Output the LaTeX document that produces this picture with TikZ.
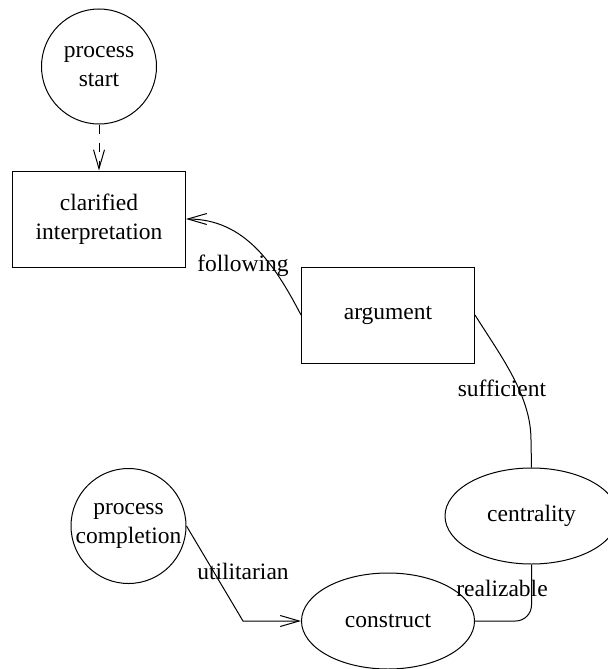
\documentclass[tikz,border=0pt]{standalone}
\usepackage{fontspec}
\setmainfont{Liberation Serif}
\usetikzlibrary{arrows.meta,shapes.geometric}

\begin{document}
\begin{tikzpicture}[x=0.5pt,y=-0.5pt,
  font=\fontsize{11.75}{14.5}\selectfont,
  line width=0.5pt,
  >={Straight Barb[length=9.5pt,width=5.5pt]},
  box/.style={draw,rectangle,minimum width=86.5pt,minimum height=48pt,align=center},
  oval/.style={draw,ellipse,minimum width=86.5pt,minimum height=48pt},
  term/.style={draw,circle,minimum size=57.5pt,inner sep=0pt,align=center},
  lbl/.style={anchor=base,inner sep=0pt}]
\useasboundingbox (0,0) rectangle (608,669);
\node[term] (start) at (99,66.5) {process\\start};
\node[box] (clarified) at (99,219) {clarified\\interpretation};
\node[box] (argument) at (388,315) {argument};
\node[oval] (centrality) at (531.5,516) {centrality};
\node[oval] (construct) at (388,621) {construct};
\node[term] (completion) at (128.5,526) {\makebox[0pt]{process}\\\makebox[0pt]{completion}};
\coordinate (ubend) at (243,621);

\draw[->,dash pattern=on 4.5pt off 4.5pt] (start) -- (clarified);
\draw[->] (argument.west) .. controls (275,265) and (245,219) .. (clarified.east);
\draw (argument.east) .. controls (500,355) and (531,395) .. (531,440) -- (centrality.north);
\draw[rounded corners=8pt] (centrality.south) |- (construct.east);
\draw[->] (completion.east) -- (ubend) -- (construct.west);

\node[lbl] (following) at (243,271.7) {following};
\node[lbl] (sufficient) at (502,396.7) {sufficient};
\node[lbl] (utilitarian) at (243,579.3) {utilitarian};
\node[lbl] (realizable) at (502,596.7) {realizable};
\end{tikzpicture}
\end{document}
